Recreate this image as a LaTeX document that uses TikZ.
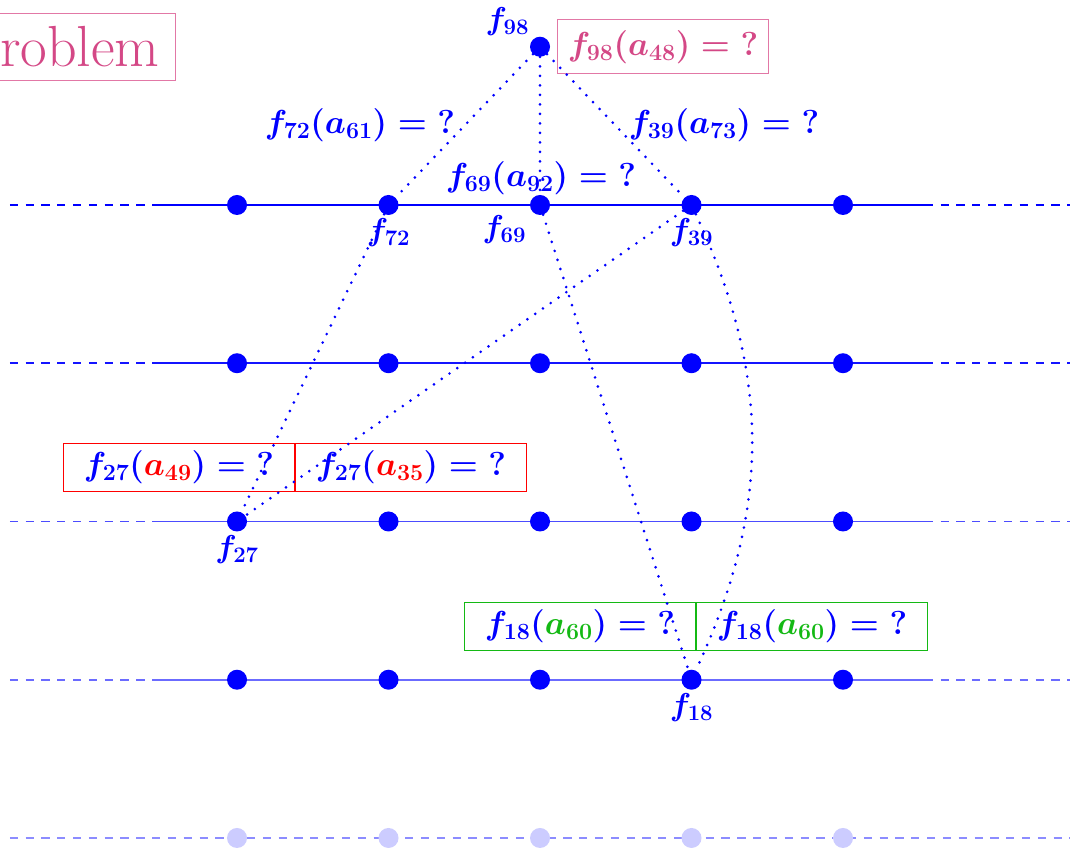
\RequirePackage{fix-cm}
\documentclass[tikz,border=0pt]{standalone}
\usepackage{amsmath}
\usetikzlibrary{positioning, calc}

\definecolor{probpink}{RGB}{212,72,134}
\definecolor{probline}{RGB}{226,120,166}
\definecolor{valgreen}{RGB}{20,185,20}

\begin{document}
\begin{tikzpicture}[
		x=5.05cm, y=5.275cm,
		dot/.style={circle, fill=blue, inner sep=0pt, minimum size=0.667cm},
		fadedot/.style={dot, fill=blue!20},
		link/.style={blue, line width=2.8pt, line cap=round, dash pattern=on 0pt off 9pt},
		rowline/.style={draw=blue, line width=1.6pt},
		rowdash/.style={rowline, dash pattern=on 7.8pt off 7.2pt},
		lbl/.style={text=blue, font=\fontsize{30}{36}\selectfont\boldmath},
		query/.style={text=blue, font=\fontsize{31.5}{38}\selectfont\boldmath},
		querybox/.style={query, draw, line width=1pt, minimum width=7.7cm, minimum height=1.6cm, inner sep=0pt}
		]
		
		% --- frame of the slide (cut at the edges) ---
		\useasboundingbox (-0.5644,1.2954) rectangle (6.5314,-4.0758);
		\clip (-0.5644,1.2954) rectangle (6.5314,-4.0758);
		
		% --- the levels, fading out downwards ---
		\foreach \lv/\op in {0/1, 1/0.92, 2/0.7, 3/0.58} {
			\draw[rowline, draw opacity=\op] (0.46,-\lv) -- (5.54,-\lv);
			\draw[rowdash, draw opacity=\op] (-0.5,-\lv) -- (0.46,-\lv) (5.54,-\lv) -- (6.5,-\lv);
		}
		\draw[rowdash, draw opacity=0.45] (-0.5,-4) -- (6.5,-4);
		
		% --- the functions ---
		\foreach \r in {1,...,4}
			\foreach \c in {1,...,5}
				\node[dot] (p\c\r) at (\c,1-\r) {};
		\foreach \c in {1,...,5}
			\node[fadedot] (p\c5) at (\c,-4) {};
		\node[dot] (f98) at (3,1) {};
		
		% names of the functions in play
		\node[lbl, above left=0pt and 0pt of f98] (l98) {$f_{98}$};
		\node[lbl, below=0pt of p21] (l72) {$f_{72}$};
		\node[lbl, below left=0pt and 1mm of p31] (l69) {$f_{69}$};
		\node[lbl, below=0pt of p41] (l39) {$f_{39}$};
		\node[lbl, below=0pt of p13] (l27) {$f_{27}$};
		\node[lbl, below=0pt of p44] (l18) {$f_{18}$};
		
		% --- the problem ---
		\node[draw=probline, text=probpink, font=\fontsize{55}{61}\selectfont, line width=1pt,
			inner xsep=15pt, minimum height=2.23cm, anchor=east] (title) at (0.597,1) {Problem};
		\node[query, text=probpink, draw=probline, line width=1pt, minimum width=7.03cm,
			minimum height=1.8cm, inner sep=0pt, right=2.3mm of f98] (q98) {$f_{98}(a_{48}) = {?}$};
		
		% queries one level down
		\node[query] (q72) at (1.812,0.506) {$f_{72}(a_{61}) = {?}$};
		\node[query] (q39) at (4.215,0.506) {$f_{39}(a_{73}) = {?}$};
		\node[query] (q69) at (3.007,0.171) {$f_{69}(a_{92}) = {?}$};
		
		% queries reaching f27 and f18
		\coordinate (redmid) at (1.383,-1.656);
		\node[querybox, draw=red, anchor=east] (q27a) at (redmid) {$f_{27}(\textcolor{red}{a_{49}}) = {?}$};
		\node[querybox, draw=red, anchor=west] (q27b) at (redmid) {$f_{27}(\textcolor{red}{a_{35}}) = {?}$};
		\coordinate (greenmid) at (4.030,-2.663);
		\node[querybox, draw=valgreen, anchor=east] (q18a) at (greenmid) {$f_{18}(\textcolor{valgreen}{a_{60}}) = {?}$};
		\node[querybox, draw=valgreen, anchor=west] (q18b) at (greenmid) {$f_{18}(\textcolor{valgreen}{a_{60}}) = {?}$};
		
		% --- calls ---
		\draw[link] (f98) -- (p21);
		\draw[link] (f98) -- (p31);
		\draw[link] (f98) -- (p41);
		\draw[link] (p21) -- (p13);
		\draw[link] (p41) -- (p13);
		\draw[link] (p31) -- (p44);
		\draw[link] (p41) to[bend left=25] (p44);
		
	\end{tikzpicture}
\end{document}
